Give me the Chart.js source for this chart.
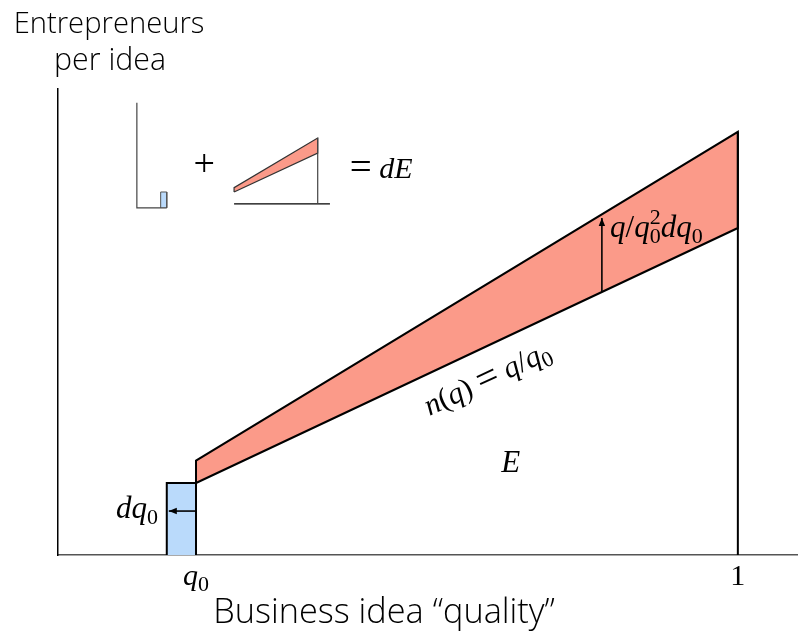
<!DOCTYPE html>
<html>
<head>
<meta charset="utf-8">
<script src="https://cdn.jsdelivr.net/npm/chart.js@4.4.1/dist/chart.umd.min.js"></script>
<style>
  html, body { margin: 0; padding: 0; background: #fff; }
</style>
</head>
<body>
<canvas id="entry-viz" width="802" height="631"></canvas>
<script>
// Business idea quality on x, entrepreneurs per idea on y
var xTicks = [ 0.203, 1 ];
var xTickLabels = [ 'q0', '1' ];

var lowerLine = [ {x: 0.203, y: 1.0},  {x: 1, y: 4.54} ];    // n(q) = q/q0
var upperLine = [ {x: 0.203, y: 1.31}, {x: 1, y: 5.875} ];   // after q0 drops by dq0
var blueBar   = [ {x: 0.160, y: 0}, {x: 0.160, y: 1}, {x: 0.203, y: 1}, {x: 0.203, y: 0} ];
var rightEdge = [ {x: 1, y: 0}, {x: 1, y: 5.875} ];
var upArrow   = [ {x: 0.8, y: 3.655}, {x: 0.8, y: 4.68} ];
var leftArrow = [ {x: 0.203, y: 0.61}, {x: 0.163, y: 0.61} ];

// the little "bar + wedge = dE" sketch in the corner
var insetAxis  = [ {x: 0.116, y: 6.28}, {x: 0.116, y: 4.82}, {x: 0.160, y: 4.82} ];
var insetBar   = [ {x: 0.151, y: 4.82}, {x: 0.151, y: 5.04}, {x: 0.160, y: 5.04}, {x: 0.160, y: 4.82} ];
var insetLower = [ {x: 0.259, y: 5.04}, {x: 0.382, y: 5.58} ];
var insetUpper = [ {x: 0.259, y: 5.10}, {x: 0.382, y: 5.79} ];
var insetEdge  = [ {x: 0.382, y: 5.79}, {x: 0.382, y: 4.875} ];
var insetBase  = [ {x: 0.259, y: 4.875}, {x: 0.40, y: 4.875} ];

var band      = [ lowerLine[0], upperLine[0], upperLine[1], lowerLine[1], lowerLine[0] ];
var insetBand = [ insetLower[0], insetUpper[0], insetUpper[1], insetLower[1], insetLower[0] ];

var RED  = 'rgb(251,154,137)';
var BLUE = 'rgb(186,218,251)';
var SERIF = '"Liberation Serif", "DejaVu Serif", serif';
var SANS  = '"Open Sans", "Roboto", sans-serif';

function lineDs(data, color, width, fill, bg) {
	return { data: data, borderColor: color, borderWidth: width, pointRadius: 0,
	         fill: fill || false, backgroundColor: bg || 'transparent',
	         borderJoinStyle: 'miter', tension: 0, clip: false };
}

// draw a little piece of math: [text, kind] with kind i / r / op / sub / subsup
function drawMath(ctx, parts, x, y, size, align) {
	var small = Math.round(size * 0.72);
	var items = [], w = 0;
	parts.forEach(function(p) {
		var t = p[0], k = p[1];
		if (k === 'sub') {
			ctx.font = small + 'px ' + SERIF;
			items.push({t: t, f: ctx.font, x: w, dy: size * 0.2});
			w += ctx.measureText(t).width;
		} else if (k === 'subsup') {
			ctx.font = small + 'px ' + SERIF;
			items.push({t: t[0], f: ctx.font, x: w, dy: size * 0.2});
			items.push({t: t[1], f: ctx.font, x: w, dy: -size * 0.4});
			w += Math.max(ctx.measureText(t[0]).width, ctx.measureText(t[1]).width);
		} else if (k === 'op') {
			ctx.font = Math.round(size * 1.3) + 'px ' + SERIF;
			items.push({t: t, f: ctx.font, x: w, dy: size * 0.06});
			w += ctx.measureText(t).width;
		} else {
			ctx.font = (k === 'i' ? 'italic ' : '') + size + 'px ' + SERIF;
			items.push({t: t, f: ctx.font, x: w, dy: 0});
			w += ctx.measureText(t).width;
		}
	});
	var x0 = align === 'center' ? x - w / 2 : (align === 'right' ? x - w : x);
	ctx.textAlign = 'left';
	items.forEach(function(it) {
		ctx.font = it.f;
		ctx.fillText(it.t, x0 + it.x, y + it.dy);
	});
}

// sans title stretched to the width it has in the figure
function fitText(ctx, text, cx, y, width) {
	ctx.font = '300 20px ' + SANS;
	var s = 20 * width / ctx.measureText(text).width;
	ctx.font = '300 ' + s.toFixed(1) + 'px ' + SANS;
	ctx.textAlign = 'center';
	ctx.fillText(text, cx, y);
}

function arrowHead(ctx, x, y, ang) {
	ctx.save();
	ctx.translate(x, y);
	ctx.rotate(ang);
	ctx.beginPath();
	ctx.moveTo(0, 0);
	ctx.lineTo(-8, -3.2);
	ctx.lineTo(-8, 3.2);
	ctx.closePath();
	ctx.fill();
	ctx.restore();
}

var annotations = {
	id: 'annotations',
	afterDraw: function(chart) {
		var ctx = chart.ctx, xs = chart.scales.x, ys = chart.scales.y;
		var px = function(v) { return xs.getPixelForValue(v); };
		var py = function(v) { return ys.getPixelForValue(v); };
		ctx.save();
		ctx.fillStyle = '#000';
		ctx.textBaseline = 'alphabetic';

		// arrow heads
		var a = upArrow, b = leftArrow;
		arrowHead(ctx, px(a[1].x), py(a[1].y), Math.atan2(py(a[1].y) - py(a[0].y), px(a[1].x) - px(a[0].x)));
		arrowHead(ctx, px(b[1].x), py(b[1].y), Math.atan2(py(b[1].y) - py(b[0].y), px(b[1].x) - px(b[0].x)));

		// tick labels
		drawMath(ctx, [['q', 'i'], ['0', 'sub']], px(xTicks[0]), 585, 30, 'center');
		drawMath(ctx, [[xTickLabels[1], 'r']], px(xTicks[1]), 585, 30, 'center');

		// math labels
		drawMath(ctx, [['E', 'i']], px(0.666), py(1.153), 31, 'center');
		drawMath(ctx, [['dq', 'i'], ['0', 'sub']], px(0.147), py(0.514), 31, 'right');
		drawMath(ctx, [['q', 'i'], ['/', 'r'], ['q', 'i'], [['0', '2'], 'subsup'], ['dq', 'i'], ['0', 'sub']],
		         px(0.812), py(4.417), 31, 'left');
		drawMath(ctx, [['+', 'op']], px(0.215), py(5.29), 29, 'center');
		drawMath(ctx, [['=', 'op'], [' ', 'r'], ['dE', 'i']], px(0.429), py(5.236), 30, 'left');

		// n(q) = q/q0 along the lower line
		var ang = Math.atan2(py(lowerLine[1].y) - py(lowerLine[0].y), px(lowerLine[1].x) - px(lowerLine[0].x));
		ctx.save();
		ctx.translate(px(0.631), py(2.458));
		ctx.rotate(ang);
		drawMath(ctx, [['n', 'i'], ['(', 'r'], ['q', 'i'], [')', 'r'], [' ', 'r'], ['=', 'op'], [' ', 'r'],
		               ['q', 'i'], ['/', 'r'], ['q', 'i'], ['0', 'sub']],
		         0, 10, 30, 'center');
		ctx.restore();

		// axis titles
		fitText(ctx, 'Entrepreneurs', 109, 33, 191);
		fitText(ctx, 'per idea', 110, 70, 112);
		fitText(ctx, 'Business idea \u201cquality\u201d', 384, 623, 342);
		ctx.restore();
	}
};

var ctx = document.getElementById('entry-viz');
var cfg = {
	type: 'line',
	data: {
		datasets: [
			lineDs(upArrow, '#000', 1.6),
			lineDs(leftArrow, '#000', 1.6),
			lineDs(rightEdge, '#000', 2),
			lineDs(band, '#000', 2, 'shape', RED),
			lineDs(blueBar, '#000', 2, 'shape', BLUE),
			lineDs(insetEdge, '#444', 1.2),
			lineDs(insetBase, '#000', 1.2),
			lineDs(insetBand, '#333', 1.2, 'shape', RED),
			lineDs(insetAxis, '#444', 1.2),
			lineDs(insetBar, '#555', 1, 'shape', BLUE)
		]
	},
	options: {
		responsive: false,
		animation: false,
		devicePixelRatio: 1,
		layout: { padding: { left: 58, right: 5, top: 89, bottom: 0 } },
		plugins: { legend: { display: false }, tooltip: { enabled: false } },
		scales: {
			x: {
				type: 'linear', min: 0, max: 1.087,
				grid: { display: false },
				border: { display: true, color: '#555', width: 1.5 },
				ticks: { display: false },
				afterFit: function(s) { s.height = 76; }
			},
			y: {
				type: 'linear', min: 0, max: 6.47,
				grid: { display: false },
				border: { display: true, color: '#000', width: 1.5 },
				ticks: { display: false },
				afterFit: function(s) { s.width = 0; }
			}
		}
	},
	plugins: [ annotations ]
};
new Chart(ctx, cfg);
</script>
</body>
</html>
